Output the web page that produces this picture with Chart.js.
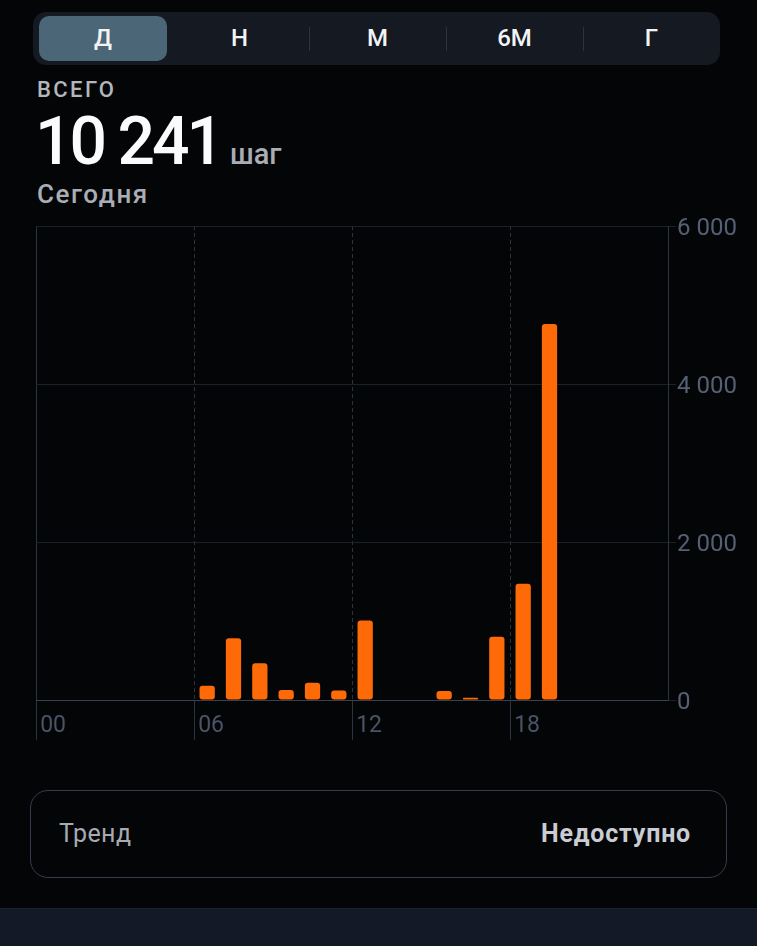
<!DOCTYPE html>
<html lang="ru">
<head>
<meta charset="utf-8">
<title>Шаги — сегодня</title>
<script src="https://cdn.jsdelivr.net/npm/chart.js@4.4.1/dist/chart.umd.min.js"></script>
<style>
  html, body { margin: 0; padding: 0; }
  body {
    width: 757px; height: 946px; background: #040507; position: relative; overflow: hidden;
    font-family: Roboto, "Noto Sans", sans-serif; color: #fff;
  }
  .seg {
    position: absolute; left: 33px; top: 12px; width: 687px; height: 53px;
    background: #141922; border-radius: 13px;
  }
  .seg .pill {
    position: absolute; left: 6px; top: 4px; width: 128px; height: 45px;
    background: #4b6677; border-radius: 10px;
  }
  .seg .item {
    position: absolute; top: 0; height: 53px; line-height: 53px; width: 137px;
    text-align: center; font-size: 24px; font-weight: 500; color: #f2f3f5;
  }
  .seg .sep {
    position: absolute; top: 15px; width: 1px; height: 24px; background: #2c3340;
  }
  .label-total {
    position: absolute; left: 37px; top: 77px; font-size: 22px; font-weight: 500;
    color: #b2b6bd; letter-spacing: 2.4px;
  }
  .value {
    position: absolute; left: 35px; top: 104px; font-size: 66px; font-weight: 500;
    letter-spacing: -3px; line-height: 76px; color: #fbfbfc;
  }
  .value .unit {
    font-size: 29px; letter-spacing: 0; color: #a9adb4; margin-left: 9px; font-weight: 500;
  }
  .today {
    position: absolute; left: 37px; top: 179px; font-size: 26px; font-weight: 500;
    color: #a9aeb5; letter-spacing: 1.6px;
  }
  .chart-wrap {
    position: absolute; left: 0; top: 210px; width: 757px; height: 540px;
  }
  .trend {
    position: absolute; left: 30px; top: 790px; width: 697px; height: 88px;
    border: 1.5px solid #363d4a; border-radius: 18px; box-sizing: border-box;
  }
  .trend .l {
    position: absolute; left: 28px; top: 0; line-height: 86px; font-size: 25px; color: #a6aab1;
    letter-spacing: 0.4px;
  }
  .trend .r {
    position: absolute; right: 35px; top: 0; line-height: 86px; font-size: 25px;
    font-weight: 700; color: #c9cdd3; letter-spacing: 0.8px;
  }
  .bottom-bar {
    position: absolute; left: 0; top: 908px; width: 757px; height: 38px;
    background: #131926; border-top: 1px solid #1a2030;
  }
</style>
</head>
<body>
  <div class="seg">
    <div class="pill"></div>
    <div class="item" style="left:35px;width:70px;">Д</div>
    <div class="item" style="left:138px;">Н</div>
    <div class="sep" style="left:276px;"></div>
    <div class="item" style="left:276px;">М</div>
    <div class="sep" style="left:413px;"></div>
    <div class="item" style="left:413px;">6М</div>
    <div class="sep" style="left:550px;"></div>
    <div class="item" style="left:550px;">Г</div>
  </div>

  <div class="label-total">ВСЕГО</div>
  <div class="value">10 241<span class="unit">шаг</span></div>
  <div class="today">Сегодня</div>

  <div class="chart-wrap"><canvas id="steps"></canvas></div>

  <div class="trend">
    <div class="l">Тренд</div>
    <div class="r">Недоступно</div>
  </div>
  <div class="bottom-bar"></div>

<script>
// Hours of the day, 00..23
const hours = ['00','01','02','03','04','05','06','07','08','09','10','11',
               '12','13','14','15','16','17','18','19','20','21','22','23'];
// Steps counted in each hour
const steps = [0, 0, 0, 0, 0, 0, 180, 782, 465, 128, 218, 120,
               1005, 0, 0, 115, 30, 800, 1470, 4760, 0, 0, 0, 0];
// Hours that carry a label under the axis
const labelledHours = ['00', '06', '12', '18'];
// Value axis ticks
const yTicks = [0, 2000, 4000, 6000];

const fmt = v => String(v).replace(/\B(?=(\d{3})+(?!\d))/g, ' ');

const gridFaint = '#1b212b';
const axisLine = '#3a414e';

new Chart(document.getElementById('steps'), {
  type: 'bar',
  data: {
    labels: hours,
    datasets: [{
      data: steps,
      backgroundColor: '#ff6a08',
      borderRadius: 3,
      borderSkipped: false,
      barPercentage: 0.58,
      categoryPercentage: 1.0
    }]
  },
  options: {
    responsive: true,
    maintainAspectRatio: false,
    animation: false,
    layout: { padding: { left: 36, top: 16, right: 0, bottom: 0 } },
    plugins: { legend: { display: false }, tooltip: { enabled: false } },
    scales: {
      x: {
        type: 'category',
        offset: true,
        grid: {
          offset: true,
          drawOnChartArea: true,
          color: c => (c.index % 6 === 0 ? '#2c333f' : 'rgba(0,0,0,0)'),
          tickColor: c => (c.index % 6 === 0 ? '#2c333f' : 'rgba(0,0,0,0)'),
          lineWidth: 1,
          tickLength: 40
        },
        border: {
          display: true,
          color: axisLine,
          dash: c => (c.index % 24 === 0 ? [] : [4, 3])
        },
        ticks: {
          autoSkip: false,
          maxRotation: 0,
          align: 'start',
          labelOffset: -9,
          padding: -28,
          color: '#4b5466',
          font: { family: 'Roboto', size: 23 },
          callback: function (value) {
            const lbl = this.getLabelForValue(value);
            return labelledHours.includes(lbl) ? lbl : '';
          }
        },
        afterFit: s => { s.height = 50; }
      },
      y: {
        position: 'right',
        min: yTicks[0],
        max: yTicks[yTicks.length - 1],
        afterBuildTicks: s => { s.ticks = yTicks.map(v => ({ value: v })); },
        grid: {
          color: c => (c.tick && c.tick.value === 0 ? axisLine : gridFaint),
          tickColor: gridFaint,
          tickLength: 8,
          lineWidth: 1
        },
        border: { display: true, color: '#2c333f' },
        ticks: {
          padding: 1,
          labelOffset: 3,
          color: '#566074',
          font: { family: 'Roboto', size: 24 },
          callback: v => fmt(v)
        },
        afterFit: s => { s.width = 89; }
      }
    }
  }
});
</script>
</body>
</html>
